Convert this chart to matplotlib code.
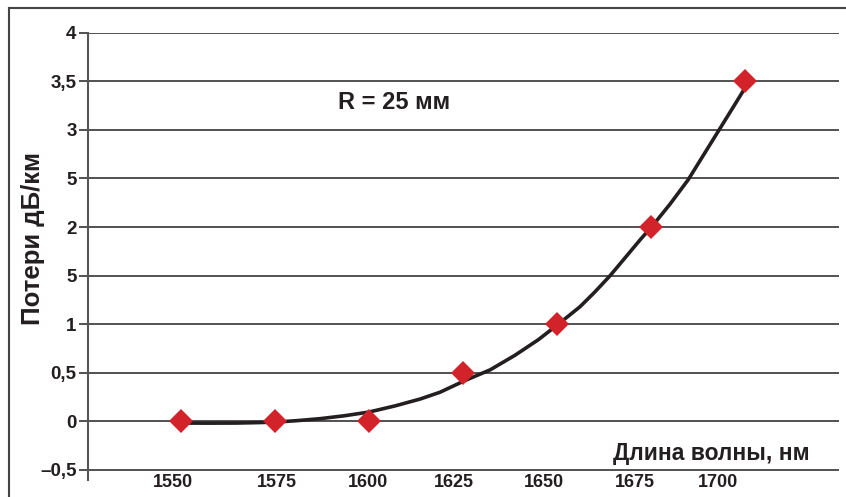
import matplotlib
matplotlib.use("Agg")
import matplotlib.pyplot as plt
from matplotlib.lines import Line2D

plt.rcParams['font.family'] = ['Liberation Sans', 'DejaVu Sans']
plt.rcParams['font.weight'] = 'bold'

# measured points (red diamonds)
wavelength = [1550, 1575, 1600, 1625, 1650, 1675, 1700]
loss = [0.0, 0.0, 0.0, 0.5, 1.0, 2.0, 3.5]

# trend curve
curve_x = [1550, 1557, 1564.8, 1570, 1575.3, 1581, 1587, 1593.5, 1600,
           1607, 1613.6, 1618.9, 1625.5, 1632.2, 1638.8, 1645, 1650,
           1656.1, 1660, 1664.1, 1668, 1672.1, 1675.3, 1680.1, 1684.9,
           1688.9, 1692.9, 1696.9, 1699.6]
curve_y = [-0.017, -0.018, -0.017, -0.013, -0.007, 0.008, 0.028, 0.058, 0.096,
           0.16, 0.23, 0.30, 0.42, 0.53, 0.68, 0.84, 0.99,
           1.18, 1.33, 1.50, 1.68, 1.87, 2.01, 2.24, 2.49,
           2.74, 2.99, 3.24, 3.41]

y_ticks = [-0.5, 0, 0.5, 1, 1.5, 2, 2.5, 3, 3.5, 4]
y_labels = ['\u20130,5', '0', '0,5', '1', '5', '2', '5', '3', '3,5', '4']
x_label_pos = [1547.9, 1575.5, 1599.7, 1622.7, 1646.4, 1670.6, 1692.7]
x_labels = ['1550', '1575', '1600', '1625', '1650', '1675', '1700']

fig = plt.figure(figsize=(8.46, 4.97), dpi=100)
ax = fig.add_axes([0.1037, 0.0348, 0.8884, 0.8994])

ax.plot(curve_x, curve_y, color='#231f20', lw=2.6, solid_joinstyle='round',
        solid_capstyle='round', zorder=3)
ax.plot(wavelength, loss, linestyle='none', marker='D', ms=12.5,
        color='#d2232a', markeredgewidth=0, zorder=4)

ax.set_xlim(1525.3, 1725)
ax.set_ylim(-0.6, 4)

ax.set_yticks(y_ticks)
ax.set_yticklabels(y_labels)
ax.set_xticks(x_label_pos)
ax.set_xticklabels(x_labels)
ax.yaxis.grid(True, color='#333333', lw=1.2)
ax.set_axisbelow(True)

ax.tick_params(axis='y', length=6.5, width=1.2, color='#333333', pad=1.5,
               labelsize=13.5, labelcolor='#231f20')
ax.tick_params(axis='x', length=0, pad=-4, labelsize=13, labelcolor='#231f20')

for s in ['top', 'right', 'bottom']:
    ax.spines[s].set_visible(False)
ax.spines['left'].set_color('#555555')
ax.spines['left'].set_linewidth(1.5)

ax.text(0.960, 0.043, 'Длина волны, нм', transform=ax.transAxes,
        ha='right', va='baseline', fontsize=16.5, color='#231f20')
ax.text(1606.8, 3.28, 'R = 25 мм', ha='center', va='center', fontsize=17,
        color='#231f20')
fig.text(33 / 846, 1 - 239 / 497, 'Потери дБ/км', rotation=90, ha='center',
         va='center', fontsize=18.5, color='#231f20')

# outer frame (left and top edges)
fig.add_artist(Line2D([9 / 846, 9 / 846], [0, 1 - 8.3 / 497],
                      transform=fig.transFigure, color='#444444', lw=1.5))
fig.add_artist(Line2D([9 / 846, 1], [1 - 8.3 / 497, 1 - 8.3 / 497],
                      transform=fig.transFigure, color='#444444', lw=1.5))

fig.savefig('out.png', dpi=100)
